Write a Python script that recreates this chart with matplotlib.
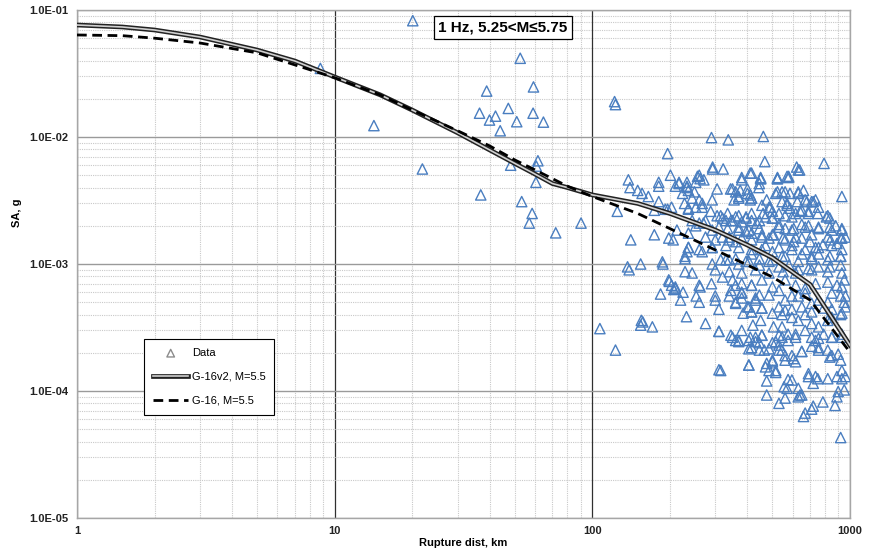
import numpy as np
import matplotlib
matplotlib.use("Agg")
import matplotlib.pyplot as plt
import matplotlib.patheffects as pe
from matplotlib.ticker import LogLocator, FixedLocator, NullFormatter

# ---- recorded data: rupture distance (km) and spectral acceleration (g) ----
dist_km = [
    8.8, 14.2, 20.1, 21.9, 52.5, 38.9, 59.1, 36.5, 42.1, 39.9, 47.2, 50.9, 58.9, 64.6, 43.9,
    48.2, 61.5, 60.6, 60.4, 36.9, 53.2, 58.4, 56.9, 72.1, 90.4, 122, 123,
    # 100-1000 km
    290, 337, 461, 196, 467, 793, 293, 293, 322, 621, 638,
    138, 140, 150, 156, 165, 181, 181, 201, 217, 233, 233, 256, 271, 249, 224,
    181, 196, 203, 174, 125, 141, 174, 198, 206, 154, 137, 139, 187, 188, 229, 236,
    229, 244, 300, 244, 260, 267, 236, 292, 305, 344, 380, 415, 450, 443, 523, 578,
    523, 560, 630, 660, 930, 360, 370, 355, 400, 410, 415, 475, 490, 545, 570,
    625, 670, 710, 735, 288, 305, 320, 335, 345, 360, 380, 395, 415, 435, 470, 500,
    530, 560, 595, 640, 690, 750, 810, 252, 270, 292, 310, 335, 370, 405, 445,
    530, 595, 670, 755, 850, 930,
    275, 300, 340, 380, 415, 455, 500, 550, 615, 710, 820, 920, 960,
    260, 292, 330, 370, 415, 470, 530, 595, 670, 755, 850, 930,
    330, 360, 395, 445, 500, 560, 630, 710, 820, 920,
    340, 380, 430, 485, 550, 615, 710, 820, 930,
    199, 210, 207, 225, 184, 220, 260, 262, 290, 253, 260, 300, 300, 310, 232, 275,
    155, 154, 157, 171, 107, 123, 310, 310, 345, 360, 370, 380,
    360, 380, 400, 345, 360, 380, 415, 445, 430, 415, 455, 450, 420,
    405, 415, 445, 465, 430, 455, 405, 475, 500, 515, 485, 475, 475,
    530, 560, 555, 595, 545, 530, 595, 615, 630, 640, 660, 670, 720, 710,
    690, 750, 720, 785, 875, 890, 900, 920,
    650, 710, 755, 820, 850, 920, 930, 960,
    530, 560, 595, 630, 670, 710, 755, 820, 850, 920, 960,
    545, 575, 615, 710, 755, 850, 930,
    530, 595, 670, 755, 850, 930, 960, 505, 530, 515,
    229, 233, 198, 203, 210, 192, 210, 217, 233, 236, 252, 262, 260,
    228, 236, 252, 267, 244, 260, 275, 213, 236, 236, 267, 292, 292, 315, 320,
    410, 523, 570, 630, 350, 375, 400, 415, 370, 410, 445, 450,
    515, 545, 585, 630, 680, 720, 570, 585, 455, 485, 500, 460, 500,
    315, 330, 350, 370, 395, 415, 445, 615, 650, 690, 755, 820, 835,
    530, 560, 605, 650, 690, 755, 835, 880, 930,
    370, 395, 415, 455, 485, 505, 320, 340, 360,
    560, 605, 650, 700, 735, 785, 840, 890, 930,
    415, 455, 500, 545, 595, 650, 710, 755, 835, 920,
    340, 370, 405, 445, 485, 530, 580, 630, 690, 755, 835, 920,
    350, 380, 415, 455, 500, 560, 615, 670, 735, 820, 890, 950,
    340, 380, 430, 485, 560, 630, 710, 820, 920, 950,
    360, 405, 385, 415, 455, 500, 545, 595, 650, 710, 790, 850, 930,
    310, 350, 370, 410, 430, 455, 500, 545, 575, 615, 670, 735, 790, 850, 930,
    405, 445, 485, 530, 560, 650, 755, 835, 900,
    405, 470, 500, 560, 605, 690, 735, 820, 890, 930,
    515, 575, 570, 630, 650, 950, 315,
    380, 450, 523, 578,
]
sa_g = [
    0.0347, 0.0123, 0.0824, 0.0056, 0.0417, 0.023, 0.0248, 0.0154, 0.0146, 0.0136, 0.0168, 0.0132, 0.0154, 0.0131, 0.0112,
    0.006, 0.0065, 0.0059, 0.0044, 0.0035, 0.0031, 0.0025, 0.0021, 0.00176, 0.0021, 0.019, 0.018,
    0.0099, 0.0095, 0.0101, 0.0074, 0.0064, 0.0062, 0.0058, 0.0056, 0.0056, 0.0058, 0.0055,
    0.0046, 0.0040, 0.0038, 0.0036, 0.0034, 0.0044, 0.0041, 0.0050, 0.0043, 0.0044, 0.0040, 0.0049, 0.0046, 0.0037, 0.0036,
    0.0031, 0.0027, 0.0028, 0.00265, 0.0026, 0.00155, 0.0017, 0.0016, 0.00155, 0.0010, 0.00095, 0.0009, 0.00104, 0.0010, 0.00115, 0.00135,
    0.00087, 0.00085, 0.0009, 0.0033, 0.0032, 0.0028, 0.00275, 0.0032, 0.0039, 0.0039, 0.0046, 0.0052, 0.0047, 0.0040, 0.0047, 0.0048,
    0.0037, 0.0037, 0.0037, 0.0038, 0.0034, 0.0037, 0.0033, 0.0032, 0.0039, 0.0035, 0.0033, 0.0032, 0.0028, 0.0031, 0.0029,
    0.0031, 0.0032, 0.0031, 0.0032, 0.0026, 0.0024, 0.0023, 0.0025, 0.0022, 0.00235, 0.00215, 0.00235, 0.0022, 0.0021, 0.00235, 0.0023,
    0.0025, 0.0024, 0.00235, 0.0026, 0.0025, 0.0025, 0.00235, 0.0020, 0.0021, 0.00185, 0.00195, 0.0019, 0.00185, 0.00185, 0.0019,
    0.00195, 0.00185, 0.00195, 0.0019, 0.00185, 0.00185,
    0.00163, 0.00155, 0.00163, 0.0016, 0.00155, 0.00163, 0.0017, 0.0016, 0.00163, 0.0017, 0.00163, 0.0016, 0.00163,
    0.0013, 0.00135, 0.0014, 0.00135, 0.0013, 0.0014, 0.00135, 0.0014, 0.0013, 0.00135, 0.0014, 0.0013,
    0.00108, 0.0011, 0.00105, 0.0011, 0.00108, 0.00115, 0.00105, 0.0011, 0.00108, 0.00115,
    0.00087, 0.00085, 0.0009, 0.00085, 0.00087, 0.00085, 0.0009, 0.00087, 0.00085,
    7.3e-4, 6.6e-4, 6.3e-4, 6.0e-4, 5.8e-4, 5.2e-4, 6.8e-4, 6.6e-4, 7.0e-4, 5.6e-4, 5.0e-4, 5.6e-4, 5.2e-4, 4.4e-4, 3.85e-4, 3.4e-4,
    3.6e-4, 3.3e-4, 3.5e-4, 3.2e-4, 3.1e-4, 2.1e-4, 2.95e-4, 1.47e-4, 2.75e-4, 2.5e-4, 2.45e-4, 3.0e-4,
    5.0e-4, 5.4e-4, 4.6e-4, 6.2e-4, 6.8e-4, 6.0e-4, 6.8e-4, 5.7e-4, 5.2e-4, 4.2e-4, 4.5e-4, 3.6e-4, 3.3e-4,
    2.5e-4, 2.2e-4, 2.4e-4, 2.1e-4, 2.65e-4, 2.75e-4, 1.6e-4, 1.65e-4, 1.75e-4, 1.4e-4, 1.45e-4, 1.2e-4, 9.3e-5,
    8.0e-5, 8.8e-5, 1.08e-4, 1.22e-4, 2.1e-4, 2.3e-4, 1.9e-4, 1.7e-4, 1.05e-4, 9.3e-5, 6.3e-5, 6.7e-5, 7.6e-5, 7.2e-5,
    1.3e-4, 1.25e-4, 1.15e-4, 8.2e-5, 7.7e-5, 9.0e-5, 9.9e-5, 4.3e-5,
    2.05e-4, 2.25e-4, 2.6e-4, 2.1e-4, 1.9e-4, 1.75e-4, 1.45e-4, 1.3e-4,
    4.6e-4, 4.3e-4, 3.8e-4, 3.6e-4, 4.0e-4, 3.4e-4, 3.2e-4, 3.6e-4, 3.8e-4, 4.0e-4, 4.6e-4,
    3.2e-4, 2.8e-4, 2.65e-4, 2.65e-4, 2.2e-4, 2.65e-4, 2.65e-4,
    6.2e-4, 5.6e-4, 5.9e-4, 5.2e-4, 5.9e-4, 6.6e-4, 5.6e-4, 3.2e-4, 2.75e-4, 2.45e-4,
    0.0011, 0.00125, 7.5e-4, 6.8e-4, 6.4e-4, 0.0027, 0.0041, 0.0044, 0.0041, 0.0038, 0.0044, 0.0047, 0.0050,
    0.0030, 0.0027, 0.0028, 0.0030, 0.0022, 0.0021, 0.0022, 0.00185, 0.00175, 0.00135, 0.00125, 0.00135, 0.0010, 0.00108, 7.9e-4,
    0.0052, 0.0047, 0.0049, 0.0055, 0.0039, 0.0038, 0.0036, 0.0033, 0.0034, 0.0032, 0.0043, 0.0047,
    0.0036, 0.0037, 0.0036, 0.0036, 0.0031, 0.0031, 0.0030, 0.00275, 0.0029, 0.0028, 0.0026, 0.0025, 0.0023,
    0.0024, 0.0022, 0.0022, 0.0024, 0.0023, 0.0025, 0.0022, 0.0025, 0.00265, 0.0026, 0.0028, 0.0024, 0.0023,
    0.00205, 0.0019, 0.0019, 0.00205, 0.0020, 0.00195, 0.00195, 0.0020, 0.0019,
    0.00195, 0.0018, 0.00175, 0.0017, 0.0016, 0.0017, 0.00163, 0.00155, 0.0015,
    0.00155, 0.0015, 0.0016, 0.0015, 0.00135, 0.00142, 0.00155, 0.00145, 0.0016,
    0.0012, 0.0013, 0.00125, 0.00115, 0.0013, 0.0012, 0.00115, 0.0012, 0.00115, 0.00115,
    0.00108, 0.0010, 0.00105, 9.8e-4, 0.00105, 9.5e-4, 9.8e-4, 9.0e-4, 9.2e-4, 9.5e-4, 9.5e-4, 9.8e-4,
    7.5e-4, 7.0e-4, 6.8e-4, 7.5e-4, 6.6e-4, 7.5e-4, 6.8e-4, 6.4e-4, 7.0e-4, 7.2e-4, 6.8e-4, 7.5e-4,
    5.6e-4, 5.9e-4, 5.4e-4, 5.7e-4, 5.2e-4, 5.6e-4, 4.9e-4, 5.0e-4, 5.6e-4, 5.0e-4,
    4.9e-4, 4.6e-4, 4.1e-4, 4.2e-4, 4.5e-4, 4.1e-4, 4.0e-4, 4.4e-4, 4.6e-4, 4.2e-4, 4.5e-4, 4.4e-4, 4.1e-4,
    2.95e-4, 2.65e-4, 2.5e-4, 2.65e-4, 2.45e-4, 2.75e-4, 2.4e-4, 2.65e-4, 2.5e-4, 2.8e-4, 3.0e-4, 2.5e-4, 2.8e-4, 2.65e-4, 2.8e-4,
    2.15e-4, 2.1e-4, 2.15e-4, 2.1e-4, 1.9e-4, 2.05e-4, 2.1e-4, 1.85e-4, 1.95e-4,
    1.6e-4, 1.55e-4, 1.7e-4, 1.75e-4, 1.8e-4, 1.37e-4, 1.3e-4, 1.25e-4, 1.3e-4, 1.25e-4,
    1.45e-4, 1.23e-4, 1.05e-4, 9.0e-5, 9.3e-5, 1.02e-4, 1.45e-4,
    0.0048, 0.0048, 0.0048, 0.0049,
]

# ---- median model curves, M=5.5 ----
curve_r = [1, 1.5, 2, 3, 5, 7, 10, 15, 20, 30, 40, 50, 60, 70, 80, 100, 150, 200, 300, 400, 500, 700, 1000]
g16v2_sa = [0.0762, 0.0735, 0.0696, 0.0613, 0.0484, 0.0397, 0.0297, 0.0215, 0.0163, 0.0108, 0.0079, 0.0062,
            0.0051, 0.0043, 0.0040, 0.0035, 0.0030, 0.0025, 0.00185, 0.00141, 0.00112, 0.00069, 0.000229]
g16_sa = [0.0636, 0.0628, 0.0600, 0.0550, 0.0460, 0.0370, 0.0293, 0.0215, 0.0163, 0.0112, 0.0085, 0.0066,
          0.0055, 0.0047, 0.0041, 0.0034, 0.0025, 0.0019, 0.00129, 0.00098, 0.00079, 0.00052, 0.000202]

y_ticks = [1e-5, 1e-4, 1e-3, 1e-2, 1e-1]
y_ticklabels = ["1.0E-05", "1.0E-04", "1.0E-03", "1.0E-02", "1.0E-01"]
x_ticks = [1, 10, 100, 1000]
x_ticklabels = ["1", "10", "100", "1000"]

font = "Liberation Sans"

fig = plt.figure(figsize=(8.76, 5.5), dpi=100)
ax = fig.add_axes([0.0879, 0.0582, 0.8824, 0.9236])
ax.set_xscale("log")
ax.set_yscale("log")
ax.set_xlim(1, 1000)
ax.set_ylim(1e-5, 1e-1)

# grid
ax.yaxis.set_minor_locator(LogLocator(base=10, subs=np.arange(2, 10)))
ax.xaxis.set_minor_locator(LogLocator(base=10, subs=np.arange(2, 10)))
ax.yaxis.set_minor_formatter(NullFormatter())
ax.xaxis.set_minor_formatter(NullFormatter())
ax.grid(which="minor", color="#c9c9c9", linestyle=(0, (1, 1)), linewidth=0.8)
ax.grid(which="major", axis="y", color="#9a9a9a", linestyle="-", linewidth=1.0)
ax.grid(which="major", axis="x", color="#303030", linestyle="-", linewidth=0.9)
ax.set_axisbelow(True)
for s in ax.spines.values():
    s.set_color("#a6a6a6")
    s.set_linewidth(1.0)

ax.scatter(dist_km, sa_g, marker="^", s=55, facecolors="none", edgecolors="#4a7ec0",
           linewidths=1.0, label="Data", zorder=3)

ax.plot(curve_r, g16v2_sa, color="#d0d0d0", linewidth=1.2, zorder=4, label="G-16v2, M=5.5",
        path_effects=[pe.Stroke(linewidth=3.4, foreground="#222222"), pe.Normal()])
ax.plot(curve_r, g16_sa, color="black", linewidth=2.0, linestyle=(0, (3.5, 2)), zorder=4,
        label="G-16, M=5.5")

ax.yaxis.set_major_locator(FixedLocator(y_ticks))
ax.set_yticklabels(y_ticklabels)
ax.xaxis.set_major_locator(FixedLocator(x_ticks))
ax.set_xticklabels(x_ticklabels)
ax.tick_params(which="both", length=0, pad=6, colors="#222222")
for lab in ax.get_xticklabels() + ax.get_yticklabels():
    lab.set_fontfamily(font)
    lab.set_fontweight("bold")
    lab.set_fontsize(8)

ax.set_xlabel("Rupture dist, km", fontfamily=font, fontweight="bold", fontsize=8, labelpad=1)
ax.set_ylabel("SA, g", fontfamily=font, fontweight="bold", fontsize=8)
ax.yaxis.set_label_coords(-0.071, 0.60)

ax.text(0.551, 0.965, "1 Hz, 5.25<M\u22645.75", transform=ax.transAxes, ha="center", va="center",
        fontfamily=font, fontweight="bold", fontsize=11, zorder=6,
        bbox=dict(boxstyle="square,pad=0.3", fc="white", ec="black", lw=0.9))

leg = ax.legend(loc="upper left", bbox_to_anchor=(0.0867, 0.352), fancybox=False, framealpha=1,
                edgecolor="black", prop={"family": font, "size": 8}, handlelength=3.2,
                labelspacing=1.25, borderpad=0.8, handletextpad=0.3, borderaxespad=0)
leg.get_frame().set_linewidth(0.8)
leg.legend_handles[0].set_edgecolor("#8c8c8c")
leg.legend_handles[0].set_sizes([30])

fig.savefig("out.png", dpi=100, facecolor="white")
